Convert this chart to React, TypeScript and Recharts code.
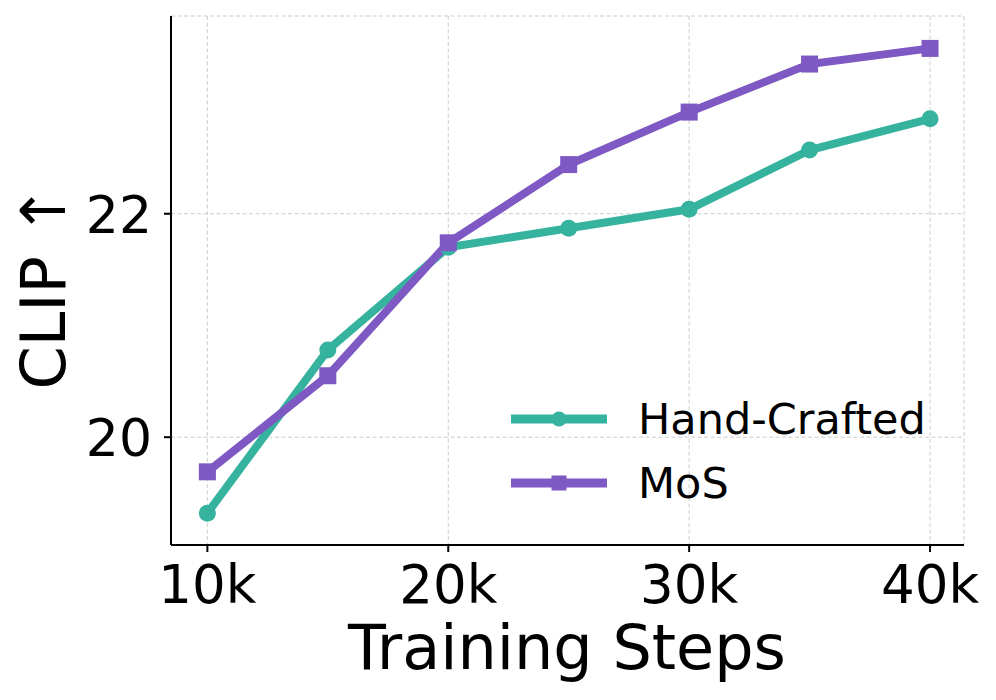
import React from 'react';
import { LineChart, Line, XAxis, YAxis, CartesianGrid } from 'recharts';

// training steps and CLIP scores
const steps = [10000, 15000, 20000, 25000, 30000, 35000, 40000];
const handCrafted = [19.32, 20.78, 21.7, 21.87, 22.04, 22.57, 22.85];
const mos = [19.69, 20.55, 21.74, 22.44, 22.91, 23.34, 23.48];
const xTicks = [10000, 20000, 30000, 40000];
const yTicks = [20, 22];
const seriesNames = ['Hand-Crafted', 'MoS'];

const TEAL = '#36b39f';
const PURPLE = '#7e58c3';
const FONT = '"DejaVu Sans", sans-serif';

const data = steps.map((s, i) => ({ step: s, hand: handCrafted[i], mos: mos[i] }));

const SquareDot = (props: any) => {
  const { cx, cy } = props;
  if (cx == null || cy == null) return null;
  return <rect x={cx - 8.5} y={cy - 8.5} width={17} height={17} fill={PURPLE} />;
};

const XTick = (props: any) => {
  const { x, y, payload } = props;
  return (
    <text x={x} y={y + 51} textAnchor="middle" fontSize={53} fontFamily={FONT} fill="#000">
      {payload.value / 1000 + 'k'}
    </text>
  );
};

const YTick = (props: any) => {
  const { x, y, payload } = props;
  return (
    <text x={x - 12} y={y + 19} textAnchor="end" fontSize={52} fontFamily={FONT} fill="#000">
      {payload.value}
    </text>
  );
};

// drawn outside the chart so it does not eat into the plot height
const LegendBox = () => {
  const rows = [
    { name: seriesNames[0], color: TEAL, shape: 'circle' },
    { name: seriesNames[1], color: PURPLE, shape: 'square' },
  ];
  return (
    <svg width={460} height={130} style={{ position: 'absolute', left: 480, top: 380 }}>
      {rows.map((r, i) => {
        const cy = 39 + i * 64;
        return (
          <g key={r.name}>
            <line x1={31} x2={127} y1={cy} y2={cy} stroke={r.color} strokeWidth={9} />
            {r.shape === 'circle' ? (
              <circle cx={79} cy={cy} r={7.5} fill={r.color} />
            ) : (
              <rect x={71.5} y={cy - 7.5} width={15} height={15} fill={r.color} />
            )}
            <text x={158} y={cy + 15} fontSize={43} fontFamily={FONT} fill="#000">
              {r.name}
            </text>
          </g>
        );
      })}
    </svg>
  );
};

export default function App() {
  return (
    <div style={{ position: 'absolute', left: 0, top: 0, width: 996, height: 700, background: '#fff' }}>
      <LineChart width={996} height={700} data={data} margin={{ top: 16, right: 32, bottom: 0, left: 71 }}>
        <CartesianGrid stroke="#cccccc" strokeDasharray="4 2.5" strokeWidth={1} />
        <XAxis
          dataKey="step"
          type="number"
          domain={[8490, 41410]}
          ticks={xTicks}
          allowDataOverflow
          height={155}
          tickSize={7}
          tickMargin={0}
          axisLine={{ stroke: '#000', strokeWidth: 2 }}
          tickLine={{ stroke: '#000', strokeWidth: 2 }}
          tick={<XTick />}
          label={() => (
            <text x={567} y={669} textAnchor="middle" fontSize={62} fontFamily={FONT} fill="#000">
              Training Steps
            </text>
          )}
        />
        <YAxis
          type="number"
          domain={[19.035, 23.77]}
          ticks={yTicks}
          allowDataOverflow
          width={100}
          tickSize={7}
          tickMargin={0}
          axisLine={{ stroke: '#000', strokeWidth: 2 }}
          tickLine={{ stroke: '#000', strokeWidth: 2 }}
          tick={<YTick />}
          label={() => (
            <text
              x={65}
              y={287}
              transform="rotate(-90 65 287)"
              textAnchor="middle"
              fontSize={62}
              fontFamily={FONT}
              fill="#000"
            >
              CLIP ↑
            </text>
          )}
        />
        <Line
          dataKey="hand"
          name={seriesNames[0]}
          stroke={TEAL}
          strokeWidth={8}
          dot={{ r: 8.5, fill: TEAL, stroke: 'none' }}
          activeDot={false}
          isAnimationActive={false}
        />
        <Line
          dataKey="mos"
          name={seriesNames[1]}
          stroke={PURPLE}
          strokeWidth={8}
          dot={<SquareDot />}
          activeDot={false}
          isAnimationActive={false}
        />
      </LineChart>
      <LegendBox />
    </div>
  );
}
